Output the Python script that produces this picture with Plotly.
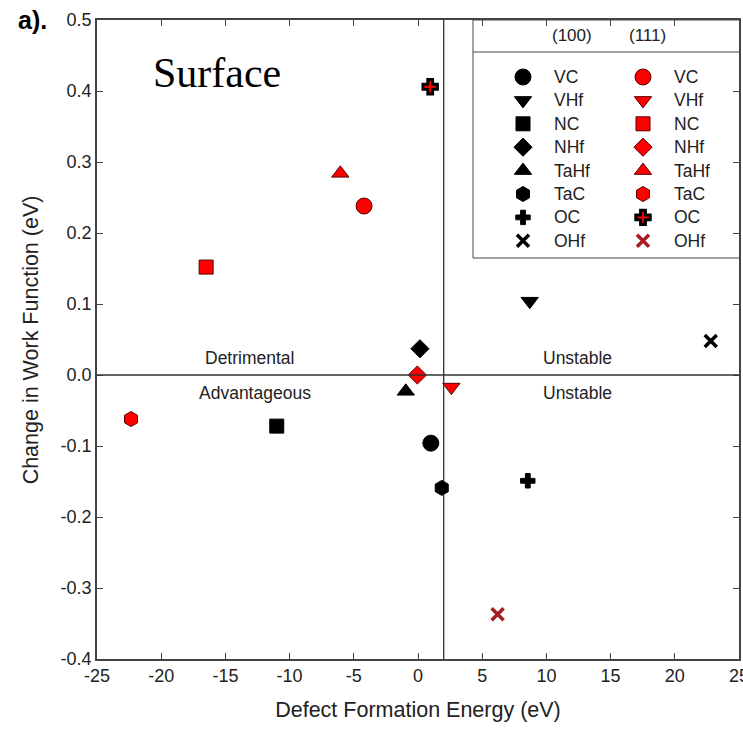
import plotly.graph_objects as go

# ---------------- data ----------------
defects = ["VC", "VHf", "NC", "NHf", "TaHf", "TaC", "OC", "OHf"]
symbols = ["circle", "triangle-down", "square", "diamond", "triangle-up", "hexagon", "cross", "x-thin"]
sizes = [16, 15, 14, 14, 15, 15, 12, 12]

x_100 = [1.0, 8.7, -11.0, 0.15, -0.95, 1.85, 8.55, 22.8]
y_100 = [-0.096, 0.104, -0.072, 0.037, -0.023, -0.159, -0.149, 0.048]

x_111 = [-4.2, 2.6, -16.5, -0.05, -6.05, -22.35, 0.95, 6.2]
y_111 = [0.238, -0.017, 0.152, 0.0, 0.284, -0.062, 0.406, -0.337]

x_ticks = [-25, -20, -15, -10, -5, 0, 5, 10, 15, 20, 25]
y_ticks = [-0.4, -0.3, -0.2, -0.1, 0.0, 0.1, 0.2, 0.3, 0.4, 0.5]

FONT = "Liberation Sans, Arial, sans-serif"
TXT = "#222"


def marker_100(i):
    if defects[i] == "OHf":
        return dict(symbol=symbols[i], size=sizes[i], color="black", line=dict(color="black", width=3.5))
    return dict(symbol=symbols[i], size=sizes[i], color="black", line=dict(color="black", width=1))


def marker_111(i):
    if defects[i] == "OHf":
        return dict(symbol=symbols[i], size=sizes[i], color="#a61c20", line=dict(color="#a61c20", width=3.5))
    if defects[i] == "OC":
        return dict(symbol=symbols[i], size=sizes[i], color="#ff0000", line=dict(color="black", width=3))
    return dict(symbol=symbols[i], size=sizes[i], color="#ff0000", line=dict(color="#5a0000", width=1))


fig = go.Figure()

# data markers
for i, d in enumerate(defects):
    fig.add_trace(go.Scatter(x=[x_100[i]], y=[y_100[i]], mode="markers", name=d + " (100)",
                             marker=marker_100(i), showlegend=False))
    fig.add_trace(go.Scatter(x=[x_111[i]], y=[y_111[i]], mode="markers", name=d + " (111)",
                             marker=marker_111(i), showlegend=False))

# ---------------- custom legend (pixel overlay axis) ----------------
L_left, L_right, L_top, L_bot, L_sep = 473, 740, 20, 258, 52
row0, row_step = 77, 23.4
col_marker = [523, 643]
col_text = [552, 672]

fig.add_shape(type="rect", xref="x2", yref="y2", x0=L_left, x1=L_right, y0=L_top, y1=L_bot,
              line=dict(color="#444", width=1), fillcolor="white", layer="below")
fig.add_shape(type="line", xref="x2", yref="y2", x0=L_left, x1=L_right, y0=L_sep, y1=L_sep,
              line=dict(color="#444", width=1))
fig.add_annotation(xref="x2", yref="y2", x=572, y=35, text="(100)", showarrow=False,
                   font=dict(family=FONT, size=17, color=TXT))
fig.add_annotation(xref="x2", yref="y2", x=647, y=35, text="(111)", showarrow=False,
                   font=dict(family=FONT, size=17, color=TXT))

for i, d in enumerate(defects):
    ry = row0 + i * row_step
    fig.add_trace(go.Scatter(x=[col_marker[0]], y=[ry], xaxis="x2", yaxis="y2", mode="markers",
                             showlegend=False, hoverinfo="skip", marker=marker_100(i)))
    fig.add_trace(go.Scatter(x=[col_marker[1]], y=[ry], xaxis="x2", yaxis="y2", mode="markers",
                             showlegend=False, hoverinfo="skip", marker=marker_111(i)))
    for c in range(2):
        fig.add_annotation(xref="x2", yref="y2", x=col_text[c], y=ry, text=d, showarrow=False,
                           xanchor="left", font=dict(family=FONT, size=17.5, color=TXT))

# ---------------- reference lines ----------------
fig.add_shape(type="line", xref="x", yref="y", x0=-25, x1=25, y0=0, y1=0,
              line=dict(color="#333", width=1.3))
fig.add_shape(type="line", xref="x", yref="y", x0=2, x1=2, y0=-0.4, y1=0.5,
              line=dict(color="#333", width=1.3), layer="below")

# region labels
for txt, xx, yy in [("Detrimental", -13.1, 0.024), ("Advantageous", -12.7, -0.026),
                    ("Unstable", 12.45, 0.024), ("Unstable", 12.45, -0.026)]:
    fig.add_annotation(x=xx, y=yy, text=txt, showarrow=False,
                       font=dict(family=FONT, size=17.5, color=TXT))

fig.add_annotation(x=-15.65, y=0.425, text="Surface", showarrow=False,
                   font=dict(family="Liberation Serif, Times New Roman, serif", size=42, color="black"))
fig.add_annotation(xref="paper", yref="paper", x=-0.1, y=1.0, text="<b>a).</b>", showarrow=False,
                   xanchor="center", yanchor="middle",
                   font=dict(family=FONT, size=25, color="black"))

# y-axis title as rotated annotation (placed like the reference)
fig.add_annotation(xref="paper", yref="paper", x=-0.103, y=0.5, text="Change in Work Function (eV)",
                   textangle=-90, showarrow=False, xanchor="center", yanchor="middle",
                   font=dict(family=FONT, size=21.5, color=TXT))

fig.update_layout(
    width=743, height=729,
    margin=dict(l=97, r=4, t=20, b=70, autoexpand=False),
    paper_bgcolor="white", plot_bgcolor="white",
    font=dict(family=FONT, color=TXT),
    xaxis=dict(range=[-25, 25], tickvals=x_ticks, ticktext=[str(v) for v in x_ticks],
               ticks="inside", ticklen=6, tickcolor="#444", mirror="ticks", ticklabeloverflow="allow",
               automargin=False,
               showline=True, linecolor="#444", linewidth=1.5, showgrid=False, zeroline=False,
               tickfont=dict(size=18, family=FONT, color=TXT),
               title=dict(text="Defect Formation Energy (eV)", font=dict(size=21.5, family=FONT, color=TXT),
                          standoff=17)),
    yaxis=dict(range=[-0.4, 0.5], tickvals=y_ticks, ticktext=[f"{v:.1f}" for v in y_ticks],
               ticks="inside", ticklen=6, tickcolor="#444", mirror="ticks", automargin=False,
               showline=True, linecolor="#444", linewidth=1.5, showgrid=False, zeroline=False,
               tickfont=dict(size=18, family=FONT, color=TXT)),
    xaxis2=dict(range=[97, 739], overlaying="x", visible=False, fixedrange=True),
    yaxis2=dict(range=[659, 20], overlaying="y", visible=False, fixedrange=True),
)

fig.write_html(
    "out.html", config={"displayModeBar": False},
    post_script=("document.documentElement.style.overflow='hidden';"
                 "document.body.style.overflow='hidden';"
                 "document.body.style.margin='0';document.body.style.padding='0';"))
